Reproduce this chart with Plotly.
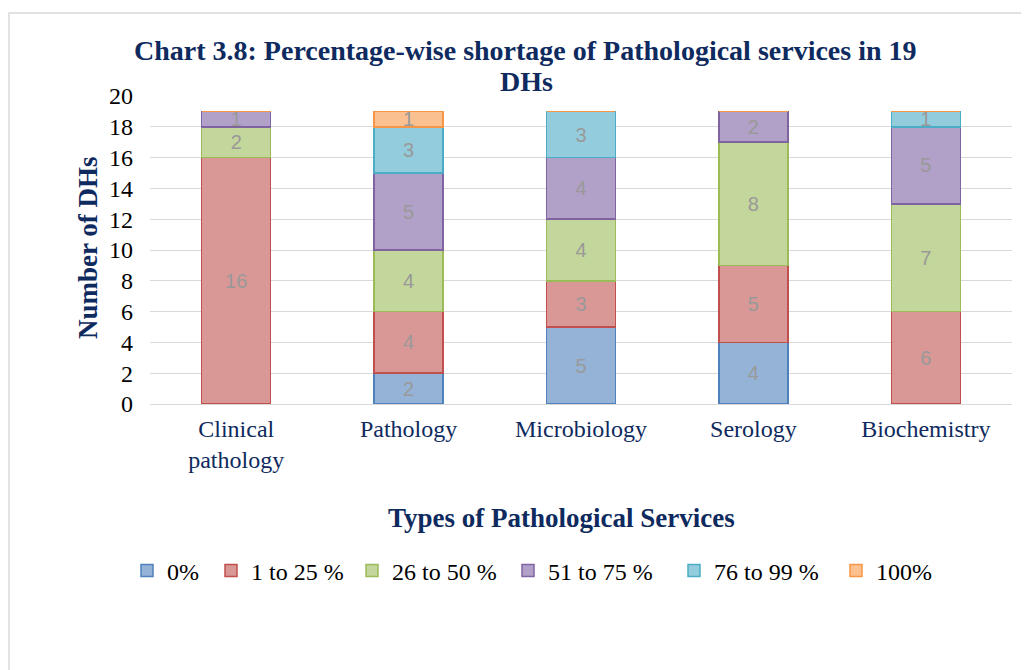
import plotly.graph_objects as go

categories = ["Clinical<br>pathology", "Pathology", "Microbiology", "Serology", "Biochemistry"]
series_names = ["0%", "1 to 25 %", "26 to 50 %", "51 to 75 %", "76 to 99 %", "100%"]
s_0 = [0, 2, 5, 4, 0]
s_1_25 = [16, 4, 3, 5, 6]
s_26_50 = [2, 4, 4, 8, 7]
s_51_75 = [1, 5, 4, 2, 5]
s_76_99 = [0, 3, 3, 0, 1]
s_100 = [0, 1, 0, 0, 0]
y_ticks = list(range(0, 21, 2))

series_values = [s_0, s_1_25, s_26_50, s_51_75, s_76_99, s_100]
fills = ["#95B3D7", "#D99896", "#C3D69B", "#B1A0C7", "#93CDDD", "#FAC090"]
borders = ["#4F81BD", "#C0504D", "#9BBB59", "#8064A2", "#4BACC6", "#F79646"]
legend_text_x = [168, 252, 393, 549, 715, 877]  # page pixel where each legend label starts

navy = "#0E2A5E"
serif = "Liberation Serif, Times New Roman, serif"

# page has 8px body offset
OFF = 8
W, H = 1029, 670
PL, PR, PT, PB = 150, 1012, 96, 404  # page pixel positions of plot area
L, T = PL - OFF, PT - OFF
R = W - (PR - OFF)
B = H - (PB - OFF)
pw, ph = PR - PL, PB - PT

def px(xpix):
    return (xpix - PL) / pw

def py(ypix):
    return (PB - ypix) / ph

fig = go.Figure()
legend_layouts = {}
for i, (name, vals, fc, bc, tx) in enumerate(zip(series_names, series_values, fills, borders, legend_text_x)):
    lname = "legend" if i == 0 else f"legend{i + 1}"
    fig.add_trace(go.Bar(
        name=name, x=categories, y=vals, legend=lname,
        marker=dict(color=fc, line=dict(color=bc, width=1.5)),
        text=[str(v) if v else "" for v in vals],
        textposition="inside", insidetextanchor="middle", textangle=0,
        textfont=dict(family="Liberation Sans, Arial, sans-serif", size=20, color="#999999"),
        constraintext="none",
    ))
    legend_layouts[lname] = dict(
        orientation="h", x=px(tx - 41), y=py(571), xanchor="left", yanchor="middle",
        font=dict(family=serif, size=24, color="black"), itemwidth=30,
        bgcolor="rgba(0,0,0,0)", borderwidth=0,
    )

fig.update_layout(
    barmode="stack", bargap=0.6,
    width=W, height=H,
    margin=dict(l=L, r=R, t=T, b=B),
    plot_bgcolor="white", paper_bgcolor="white",
    font=dict(family=serif, color="black"),
    showlegend=True,
    uniformtext=dict(mode=False),
    **legend_layouts,
)
fig.update_yaxes(range=[0, 20], tickvals=y_ticks, showgrid=True, gridcolor="#D9D9D9", gridwidth=1,
                 zeroline=True, zerolinecolor="#D9D9D9", zerolinewidth=1,
                 tickfont=dict(family=serif, size=24, color="black"), ticklabelstandoff=16,
                 showline=False, ticks="")
fig.update_xaxes(tickfont=dict(family=serif, size=24, color=navy), ticklabelstandoff=8,
                 showline=False, ticks="")

fig.add_annotation(text="<b>Chart 3.8: Percentage-wise shortage of Pathological services in 19</b>",
                   xref="paper", yref="paper", x=px(525), y=py(50), xanchor="center", yanchor="middle",
                   showarrow=False, font=dict(family=serif, size=28, color=navy))
fig.add_annotation(text="<b>DHs</b>",
                   xref="paper", yref="paper", x=px(526), y=py(81), xanchor="center", yanchor="middle",
                   showarrow=False, font=dict(family=serif, size=28, color=navy))
fig.add_annotation(text="<b>Number of DHs</b>", textangle=-90,
                   xref="paper", yref="paper", x=px(88), y=py(248), xanchor="center", yanchor="middle",
                   showarrow=False, font=dict(family=serif, size=27, color=navy))
fig.add_annotation(text="<b>Types of Pathological Services</b>",
                   xref="paper", yref="paper", x=px(561), y=py(518), xanchor="center", yanchor="middle",
                   showarrow=False, font=dict(family=serif, size=27, color=navy))

fig.add_shape(type="rect", xref="paper", yref="paper",
              x0=px(9), x1=px(1045), y0=py(690), y1=py(13),
              line=dict(color="#D9D9D9", width=1.5), fillcolor="rgba(0,0,0,0)", layer="below")

fig.write_html("out.html")
